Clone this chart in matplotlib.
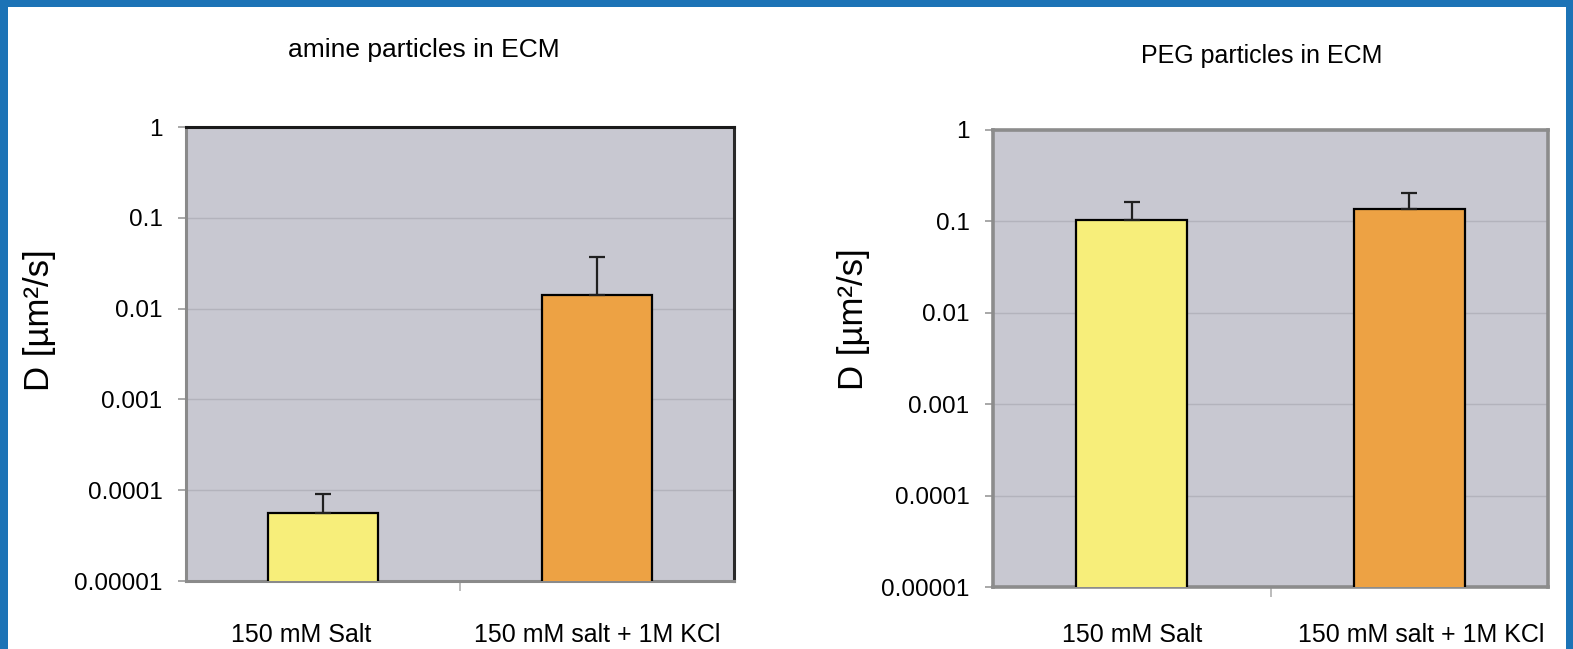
import matplotlib
matplotlib.use("Agg")
import matplotlib.pyplot as plt
from matplotlib.patches import Rectangle
from matplotlib.ticker import FixedLocator, FixedFormatter
from matplotlib.transforms import ScaledTranslation

plt.rcParams['font.family'] = ['Liberation Sans', 'DejaVu Sans']

# ---- data ----
categories = ["150 mM Salt", "150 mM salt + 1M KCl"]
amine_D = [5.6e-5, 0.0142]
amine_err = [3.4e-5, 0.023]
peg_D = [0.104, 0.136]
peg_err = [0.061, 0.067]
titles = ["amine particles in ECM", "PEG particles in ECM"]
ytick_vals = [1e-5, 1e-4, 1e-3, 1e-2, 1e-1, 1]
ytick_labels = ["0.00001", "0.0001", "0.001", "0.01", "0.1", "1"]
ylabel = "D [µm²/s]"

bar_colors = ["#F7EE7A", "#EDA244"]
plot_bg = "#C8C8D1"
grid_col = "#B3B3BC"
frame_blue = "#1C73B6"

W, H = 1573, 649
fig = plt.figure(figsize=(W / 100, H / 100), dpi=100)
fig.patch.set_facecolor("white")


def px_axes(x0, x1, ytop, ybot):
    return fig.add_axes([x0 / W, 1 - ybot / H, (x1 - x0) / W, (ybot - ytop) / H])


def draw_panel(ax, values, errs, title, spine_cols, title_xy, title_size,
               ylabel_xy, xpad, label_shift):
    ax.set_facecolor(plot_bg)
    ax.set_yscale("log")
    ax.set_ylim(1e-5, 1)
    ax.set_xlim(-0.5, 1.5)
    xs = range(len(categories))
    ax.bar(xs, values, width=0.4, color=bar_colors, edgecolor="black",
           linewidth=1.6, zorder=3)
    ax.errorbar(xs, values, yerr=[[0] * len(errs), errs], fmt="none",
                ecolor="#202020", elinewidth=1.6, capsize=6, capthick=1.6,
                zorder=4)
    ax.yaxis.set_major_locator(FixedLocator(ytick_vals))
    ax.yaxis.set_major_formatter(FixedFormatter(ytick_labels))
    ax.yaxis.set_minor_locator(FixedLocator([]))
    ax.grid(axis="y", which="major", color=grid_col, linewidth=1.0, zorder=0)
    ax.set_axisbelow(True)
    ax.tick_params(axis="y", which="major", direction="out", length=6,
                   width=1.2, color="#9a9a9a", labelsize=17.5, pad=11)
    ax.set_xticks(list(xs))
    ax.set_xticklabels(categories)
    ax.tick_params(axis="x", which="major", length=0, labelsize=18, pad=xpad)
    for lab, dx in zip(ax.get_xticklabels(), label_shift):
        lab.set_transform(lab.get_transform() +
                          ScaledTranslation(dx / 100, 0, fig.dpi_scale_trans))
    ax.set_xticks([0.5], minor=True)
    ax.tick_params(axis="x", which="minor", direction="out", length=7,
                   width=1.2, color="#b0b0b0")
    for side, (col, lw) in spine_cols.items():
        ax.spines[side].set_color(col)
        ax.spines[side].set_linewidth(lw)
    fig.text(ylabel_xy[0] / W, 1 - ylabel_xy[1] / H, ylabel, rotation=90,
             ha="center", va="center", fontsize=25)
    fig.text(title_xy[0] / W, 1 - title_xy[1] / H, title,
             ha="center", va="center", fontsize=title_size)


ax1 = px_axes(186, 734, 127, 581)
draw_panel(ax1, amine_D, amine_err, titles[0],
           {"top": ("#1a1a1a", 2.2), "right": ("#2a2a2a", 2.2),
            "left": ("#8a8a8a", 2.2), "bottom": ("#8a8a8a", 2.2)},
           (424, 50), 19, (39, 320), 30, (-22, 0))

ax2 = px_axes(993, 1548, 130, 587)
draw_panel(ax2, peg_D, peg_err, titles[1],
           {"top": ("#8c8c8c", 2.6), "right": ("#8c8c8c", 2.6),
            "left": ("#8c8c8c", 2.6), "bottom": ("#8c8c8c", 2.6)},
           (1262, 56), 18, (854, 319), 26, (0, 12))

# blue slide frame around the figure
for (x, y, w, h) in [(0, 0, 8, H), (0, 0, W, 7), (1566, 0, W - 1566, H)]:
    fig.add_artist(Rectangle((x / W, 1 - (y + h) / H), w / W, h / H,
                             transform=fig.transFigure, facecolor=frame_blue,
                             edgecolor="none", zorder=100))

fig.savefig("out.png", dpi=100, facecolor="white")
